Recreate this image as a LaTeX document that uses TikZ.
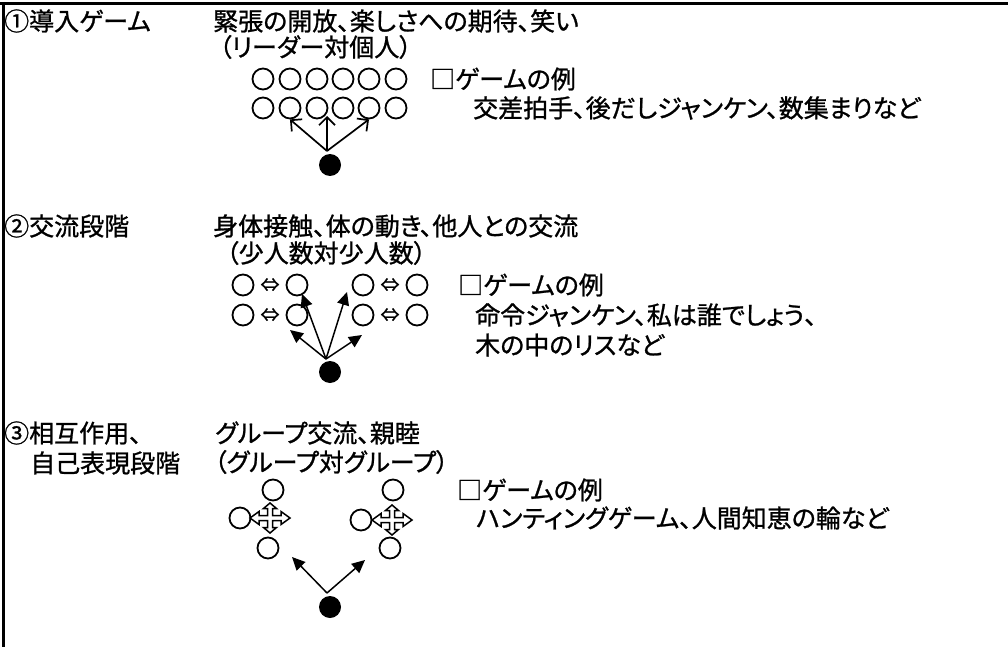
\documentclass[tikz,border=0pt]{standalone}
\usepackage{fontspec}
\newfontfamily\jp[RawFeature={+palt}, FakeBold=1]{Noto Sans CJK JP}
\usetikzlibrary{arrows.meta}
\newcommand{\fourway}[1]{\draw[line width=1.5pt, fill=white, shift={(#1)}] (-20,0) -- (-11,-6.5) -- (-11,-2.5) -- (-2.5,-2.5) -- (-2.5,-9.5) -- (-6.5,-9.5) -- (0,-15) -- (6.5,-9.5) -- (2.5,-9.5) -- (2.5,-2.5) -- (11,-2.5) -- (11,-6.5) -- (20,0) -- (11,6.5) -- (11,2.5) -- (2.5,2.5) -- (2.5,9.5) -- (6.5,9.5) -- (0,15) -- (-6.5,9.5) -- (-2.5,9.5) -- (-2.5,2.5) -- (-11,2.5) -- (-11,6.5) -- cycle;}

\begin{document}
\begin{tikzpicture}[x=1pt, y=-1pt,
  txt/.style={anchor=west, inner sep=0pt, font=\jp\fontsize{25}{30}\selectfont},
  swap/.style={inner sep=0pt, font=\jp\fontsize{19}{22}\selectfont},
  person/.style={circle, draw, line width=1.8pt, minimum size=21pt, inner sep=0pt},
  leader/.style={circle, fill, minimum size=22pt, inner sep=0pt},
  open/.style={-{Straight Barb[length=8pt, width=16pt]}, line width=1.7pt},
  solid/.style={-{Triangle[length=13pt, width=12pt]}, line width=1.5pt}]
\useasboundingbox (0,0) rectangle (1008,647);
\draw[line width=3pt] (0,3.5) -- (1008,3.5);
\draw[line width=3pt] (3.5,2) -- (3.5,647);

% stage 1
\node[txt] (title1) at (4, 21) {①導入ゲーム};
\node[txt] (aim1) at (213, 21) {緊張の開放、楽しさへの期待、笑い};
\node[txt] (form1) at (219, 47) {（リーダー対個人）};
\node[person] (a1) at (263, 79) {};
\node[person] (a2) at (290, 79) {};
\node[person] (a3) at (317, 79) {};
\node[person] (a4) at (343, 79) {};
\node[person] (a5) at (369, 79) {};
\node[person] (a6) at (396, 79) {};
\node[person] (b1) at (263, 108) {};
\node[person] (b2) at (290, 108) {};
\node[person] (b3) at (317, 108) {};
\node[person] (b4) at (343, 108) {};
\node[person] (b5) at (369, 108) {};
\node[person] (b6) at (396, 108) {};
\node[txt] (ex1) at (430, 79) {□ゲームの例};
\node[txt] (games1) at (473, 108) {交差拍手、後だしジャンケン、数集まりなど};
\node[leader] (lead1) at (330, 165) {};
\coordinate (o1) at (327, 151);
\coordinate (mid1) at (327, 116);
\draw[open] (o1) -- (b2.south);
\draw[open] (o1) -- (mid1);
\draw[open] (o1) -- (b5.south);

% stage 2
\node[txt] (title2) at (4, 226) {②交流段階};
\node[txt] (aim2) at (213, 226) {身体接触、体の動き、他人との交流};
\node[txt] (form2) at (226, 253) {（少人数対少人数）};
\node[person] (c1) at (243, 285) {};
\node[swap] (cs1) at (270, 285) {⇔};
\node[person] (c2) at (297, 285) {};
\node[person] (c3) at (363, 285) {};
\node[swap] (cs2) at (390, 285) {⇔};
\node[person] (c4) at (417, 285) {};
\node[person] (d1) at (243, 315) {};
\node[swap] (ds1) at (270, 315) {⇔};
\node[person] (d2) at (297, 315) {};
\node[person] (d3) at (363, 315) {};
\node[swap] (ds2) at (390, 315) {⇔};
\node[person] (d4) at (417, 315) {};
\node[txt] (ex2) at (458, 285) {□ゲームの例};
\node[txt] (games2) at (475, 315) {命令ジャンケン、私は誰でしょう、};
\node[txt] (games2b) at (475, 345) {木の中のリスなど};
\node[leader] (lead2) at (330, 372) {};
\coordinate (o2) at (326, 359);
\coordinate (t2a) at (302, 294);
\coordinate (t2b) at (347, 292);
\coordinate (t2c) at (290, 330);
\coordinate (t2d) at (362, 335);
\draw[solid] (o2) -- (t2a);
\draw[solid] (o2) -- (t2b);
\draw[solid] (o2) -- (t2c);
\draw[solid] (o2) -- (t2d);

% stage 3
\node[txt] (title3) at (4, 433) {③相互作用、};
\node[txt] (title3b) at (30, 463) {自己表現段階};
\node[txt] (aim3) at (215, 433) {グループ交流、親睦};
\node[txt] (form3) at (214, 462) {（グループ対グループ）};
\node[person] (e1) at (273, 490) {};
\node[person] (e2) at (240, 518) {};
\fourway{270,518}
\node[person] (e3) at (268, 548) {};
\node[person] (f1) at (393, 490) {};
\node[person] (f2) at (361, 520) {};
\fourway{392,520}
\node[person] (f3) at (390, 548) {};
\node[txt] (ex3) at (457, 490) {□ゲームの例};
\node[txt] (games3) at (476, 518) {ハンティングゲーム、人間知恵の輪など};
\node[leader] (lead3) at (330, 607) {};
\coordinate (o3) at (327, 593);
\coordinate (t3a) at (292, 557);
\coordinate (t3b) at (365, 560);
\draw[solid] (o3) -- (t3a);
\draw[solid] (o3) -- (t3b);

\end{tikzpicture}
\end{document}
